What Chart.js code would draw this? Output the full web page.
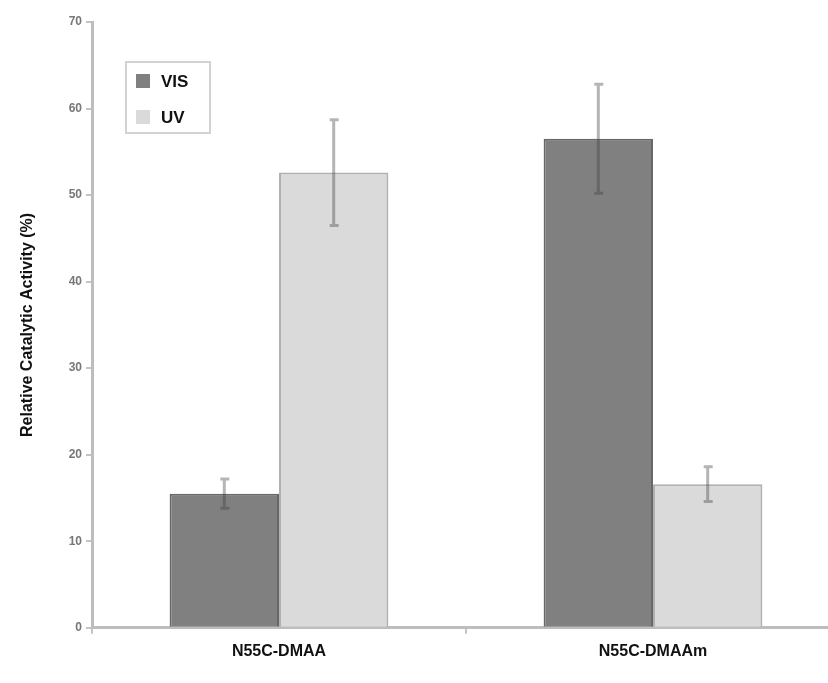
<!DOCTYPE html>
<html>
<head>
<meta charset="utf-8">
<script src="https://cdn.jsdelivr.net/npm/chart.js@4"></script>
<style>
  html, body { margin: 0; padding: 0; background: #fff; overflow: hidden; }
  #wrap { width: 850px; height: 683px; }
</style>
</head>
<body>
<div id="wrap"><canvas id="chart"></canvas></div>
<script>
const categories = ["N55C-DMAA", "N55C-DMAAm"];
const seriesNames = ["VIS", "UV"];
const visValues = [15.5, 56.5];
const uvValues = [52.6, 16.6];
const visErrors = [1.7, 6.3];
const uvErrors = [6.1, 2.0];
const yTicks = [0, 10, 20, 30, 40, 50, 60, 70];

const errors = [visErrors, uvErrors];

// error bars, drawn through the chart's own scales
const errorBars = {
  id: "errorBars",
  afterDatasetsDraw(chart) {
    const ctx = chart.ctx;
    const y = chart.scales.y;
    ctx.save();
    ctx.strokeStyle = "rgba(60,60,60,0.38)";
    ctx.lineWidth = 3;
    chart.data.datasets.forEach((ds, i) => {
      const meta = chart.getDatasetMeta(i);
      meta.data.forEach((bar, j) => {
        const v = ds.data[j], e = errors[i][j];
        const top = y.getPixelForValue(v + e);
        const bot = y.getPixelForValue(v - e);
        ctx.beginPath();
        ctx.moveTo(bar.x, top); ctx.lineTo(bar.x, bot);
        ctx.moveTo(bar.x - 4, top); ctx.lineTo(bar.x + 5, top);
        ctx.moveTo(bar.x - 4, bot); ctx.lineTo(bar.x + 5, bot);
        ctx.stroke();
      });
    });
    ctx.restore();
  }
};

// boxed legend inside the plot
const boxLegend = {
  id: "boxLegend",
  afterDraw(chart) {
    const ctx = chart.ctx;
    const a = chart.chartArea;
    const x0 = a.left + 34, y0 = a.top + 40;
    ctx.save();
    ctx.strokeStyle = "#d2d2d2";
    ctx.lineWidth = 2;
    ctx.strokeRect(x0, y0, 84, 71);
    ctx.font = "bold 17px 'Liberation Sans', Arial, sans-serif";
    ctx.textBaseline = "middle";
    chart.data.datasets.forEach((ds, i) => {
      const cy = y0 + 19 + i * 36;
      ctx.fillStyle = ds.backgroundColor;
      ctx.fillRect(x0 + 10, cy - 7, 14, 14);
      ctx.fillStyle = "#111";
      ctx.fillText(ds.label, x0 + 35, cy + 1);
    });
    ctx.restore();
  }
};

new Chart(document.getElementById("chart").getContext("2d"), {
  type: "bar",
  data: {
    labels: categories,
    datasets: [
      { label: seriesNames[0], data: visValues, backgroundColor: "#808080",
        borderColor: "#686868", borderWidth: 2 },
      { label: seriesNames[1], data: uvValues, backgroundColor: "#dadada",
        borderColor: "#b0b0b0", borderWidth: 2 }
    ]
  },
  options: {
    responsive: true,
    maintainAspectRatio: false,
    animation: false,
    datasets: { bar: { categoryPercentage: 0.585, barPercentage: 1 } },
    layout: { padding: { top: 22, right: 10, bottom: 14, left: 0 } },
    plugins: { legend: { display: false }, tooltip: { enabled: false } },
    scales: {
      x: {
        grid: { offset: true, drawOnChartArea: false, drawTicks: true, tickLength: 6,
                color: "#c4c4c4", lineWidth: 2 },
        border: { display: true, color: "#bdbdbd", width: 3 },
        ticks: { color: "#111", padding: 8,
                 font: { family: "'Liberation Sans', Arial, sans-serif", size: 16, weight: "bold" } }
      },
      y: {
        min: 0, max: 70,
        afterFit(scale) { scale.width = 92; },
        afterBuildTicks(scale) { scale.ticks = yTicks.map(v => ({ value: v })); },
        grid: { drawOnChartArea: false, drawTicks: true, tickLength: 6,
                color: "#c4c4c4", lineWidth: 2 },
        border: { display: true, color: "#bdbdbd", width: 3 },
        ticks: { color: "#777", padding: 4,
                 font: { family: "'Liberation Sans', Arial, sans-serif", size: 12, weight: "bold" } },
        title: { display: true, text: "Relative Catalytic Activity (%)", color: "#111",
                 padding: { top: 18, bottom: 0 },
                 font: { family: "'Liberation Sans', Arial, sans-serif", size: 16, weight: "bold" } }
      }
    }
  },
  plugins: [errorBars, boxLegend]
});
</script>
</body>
</html>
